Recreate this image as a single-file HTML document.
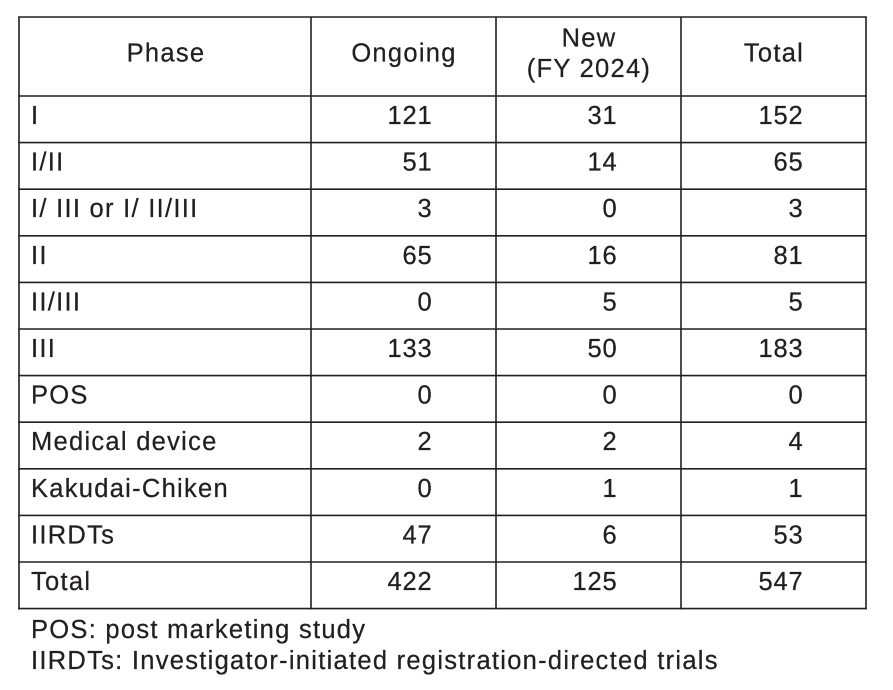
<!DOCTYPE html>
<html>
<head>
<meta charset="utf-8">
<style>
  html, body { margin: 0; padding: 0; background: #ffffff; }
  body { width: 893px; height: 690px; overflow: hidden; }
  svg { display: block; }
  text { font-family: "Liberation Sans", Arial, Helvetica, sans-serif; font-size: 25.5px; fill: #231f20; stroke: #231f20; stroke-width: 0.25px; }
  .lbl { letter-spacing: 1.28px; }
  .num { letter-spacing: 0.8px; }
</style>
</head>
<body>
<svg width="893" height="690" viewBox="0 0 893 690" xmlns="http://www.w3.org/2000/svg">
  <g stroke="#231f20" stroke-width="1.6" fill="none">
    <line x1="19" y1="16.5" x2="19" y2="609.5"/>
    <line x1="311" y1="16.5" x2="311" y2="609.5"/>
    <line x1="496" y1="16.5" x2="496" y2="609.5"/>
    <line x1="681" y1="16.5" x2="681" y2="609.5"/>
    <line x1="866" y1="16.5" x2="866" y2="609.5"/>
    <line x1="18.2" y1="17" x2="866.8" y2="17"/>
    <line x1="18.2" y1="96" x2="866.8" y2="96"/>
    <line x1="18.2" y1="142.6" x2="866.8" y2="142.6"/>
    <line x1="18.2" y1="189.2" x2="866.8" y2="189.2"/>
    <line x1="18.2" y1="235.8" x2="866.8" y2="235.8"/>
    <line x1="18.2" y1="282.4" x2="866.8" y2="282.4"/>
    <line x1="18.2" y1="329" x2="866.8" y2="329"/>
    <line x1="18.2" y1="375.6" x2="866.8" y2="375.6"/>
    <line x1="18.2" y1="422.2" x2="866.8" y2="422.2"/>
    <line x1="18.2" y1="468.8" x2="866.8" y2="468.8"/>
    <line x1="18.2" y1="515.4" x2="866.8" y2="515.4"/>
    <line x1="18.2" y1="562" x2="866.8" y2="562"/>
    <line x1="18.2" y1="608.6" x2="866.8" y2="608.6"/>
  </g>

  <text class="lbl" x="166" y="61.5" text-anchor="middle">Phase</text>
  <text class="lbl" x="404" y="61.5" text-anchor="middle">Ongoing</text>
  <text class="lbl" x="589" y="46.5" text-anchor="middle">New</text>
  <text class="lbl" x="589" y="77" text-anchor="middle">(FY 2024)</text>
  <text class="lbl" x="774" y="61.5" text-anchor="middle">Total</text>

  <g class="lbl">
    <text x="31" y="124">I</text>
    <text x="31" y="170.6">I/II</text>
    <text x="31" y="217.2">I/ III or I/ II/III</text>
    <text x="31" y="263.8">II</text>
    <text x="31" y="310.4">II/III</text>
    <text x="31" y="357">III</text>
    <text x="31" y="403.6">POS</text>
    <text x="31" y="450.2">Medical device</text>
    <text x="31" y="496.8">Kakudai-Chiken</text>
    <text x="31" y="543.4">IIRDTs</text>
    <text x="31" y="590">Total</text>
  </g>

  <g class="num" text-anchor="end">
    <text x="432.5" y="124">121</text>
    <text x="432.5" y="170.6">51</text>
    <text x="432.5" y="217.2">3</text>
    <text x="432.5" y="263.8">65</text>
    <text x="432.5" y="310.4">0</text>
    <text x="432.5" y="357">133</text>
    <text x="432.5" y="403.6">0</text>
    <text x="432.5" y="450.2">2</text>
    <text x="432.5" y="496.8">0</text>
    <text x="432.5" y="543.4">47</text>
    <text x="432.5" y="590">422</text>
  </g>

  <g class="num" text-anchor="end">
    <text x="617.5" y="124">31</text>
    <text x="617.5" y="170.6">14</text>
    <text x="617.5" y="217.2">0</text>
    <text x="617.5" y="263.8">16</text>
    <text x="617.5" y="310.4">5</text>
    <text x="617.5" y="357">50</text>
    <text x="617.5" y="403.6">0</text>
    <text x="617.5" y="450.2">2</text>
    <text x="617.5" y="496.8">1</text>
    <text x="617.5" y="543.4">6</text>
    <text x="617.5" y="590">125</text>
  </g>

  <g class="num" text-anchor="end">
    <text x="803.5" y="124">152</text>
    <text x="803.5" y="170.6">65</text>
    <text x="803.5" y="217.2">3</text>
    <text x="803.5" y="263.8">81</text>
    <text x="803.5" y="310.4">5</text>
    <text x="803.5" y="357">183</text>
    <text x="803.5" y="403.6">0</text>
    <text x="803.5" y="450.2">4</text>
    <text x="803.5" y="496.8">1</text>
    <text x="803.5" y="543.4">53</text>
    <text x="803.5" y="590">547</text>
  </g>

  <text class="lbl" x="31" y="638">POS: post marketing study</text>
  <text class="lbl" x="31" y="669">IIRDTs: Investigator-initiated registration-directed trials</text>
</svg>
</body>
</html>
